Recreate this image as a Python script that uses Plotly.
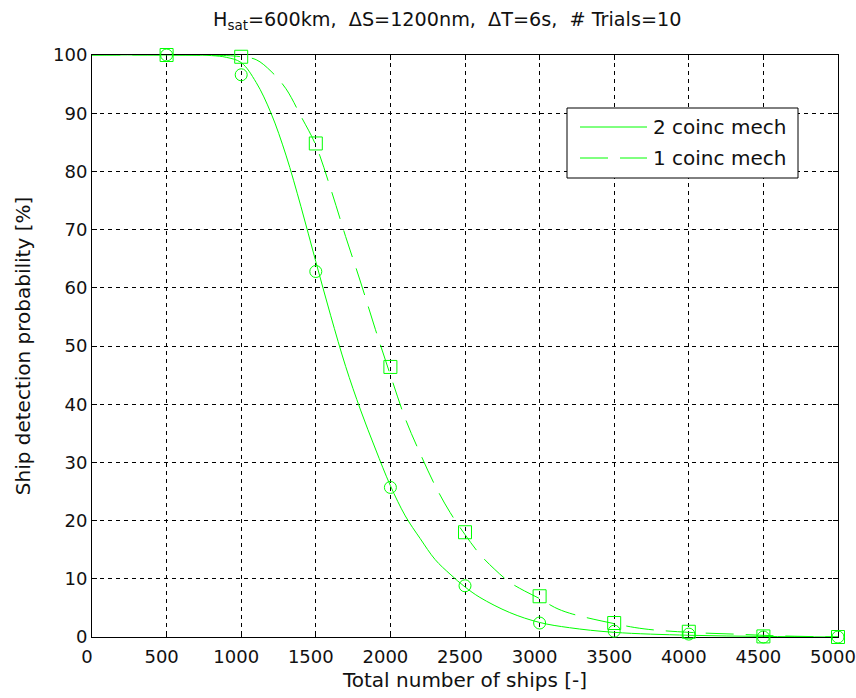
import plotly.graph_objects as go

# Measured data points (markers)
ships = [500, 1000, 1500, 2000, 2500, 3000, 3500, 4000, 4500, 5000]
p_2coinc = [100, 96.6, 62.8, 25.7, 8.8, 2.4, 1.0, 0.5, 0.0, 0.0]
p_1coinc = [100, 99.7, 84.8, 46.4, 18.0, 7.0, 2.4, 0.9, 0.1, 0.0]

# Fitted curves
fit2_x = [0, 500, 800, 900, 1000, 1100, 1200, 1300, 1400, 1500, 1600, 1700, 1800,
          1900, 2000, 2100, 2200, 2300, 2400, 2500, 2600, 2800, 3000, 3200, 3500,
          4000, 4500, 5000]
fit2_y = [100, 100, 99.9, 99.6, 98.7, 95.3, 90.0, 82.8, 74.0, 64.5, 55.2, 46.5, 39.0,
          32.3, 26.0, 20.8, 16.9, 13.3, 10.8, 8.6, 6.8, 4.2, 2.5, 1.6, 0.8,
          0.3, 0.1, 0.0]
fit1_x = [0, 500, 900, 1000, 1100, 1200, 1300, 1400, 1500, 1600, 1700, 1800, 1900,
          2000, 2100, 2200, 2300, 2400, 2500, 2600, 2700, 2800, 2900, 3000, 3100,
          3200, 3500, 3700, 4000, 4300, 4600, 5000]
fit1_y = [100, 100, 99.9, 99.7, 99.2, 97.2, 94.2, 89.5, 84.5, 77.0, 68.8, 61.0, 52.8,
          45.0, 37.5, 31.5, 26.0, 21.4, 17.6, 14.2, 11.6, 9.4, 7.9, 6.6, 5.1,
          4.1, 2.3, 1.4, 0.8, 0.5, 0.2, 0.0]

x_ticks = [0, 500, 1000, 1500, 2000, 2500, 3000, 3500, 4000, 4500, 5000]
y_ticks = [0, 10, 20, 30, 40, 50, 60, 70, 80, 90, 100]
series_names = ["2 coinc mech", "1 coinc mech"]

GREEN = "#00ff00"
TXT = "#111111"
FONT = "DejaVu Sans, Verdana, sans-serif"
FS_TICK = 18
FS = 20
DASH = "28px,12px"

fig = go.Figure()
fig.add_trace(go.Scatter(x=fit2_x, y=fit2_y, mode="lines", line_shape="spline",
                         line=dict(color=GREEN, width=1), name=series_names[0],
                         showlegend=False))
fig.add_trace(go.Scatter(x=fit1_x, y=fit1_y, mode="lines", line_shape="spline",
                         line=dict(color=GREEN, width=1, dash=DASH),
                         name=series_names[1], showlegend=False))
fig.add_trace(go.Scatter(x=ships, y=p_2coinc, mode="markers", showlegend=False,
                         cliponaxis=False,
                         marker=dict(symbol="circle-open", size=12, color=GREEN,
                                     line=dict(width=1, color=GREEN))))
fig.add_trace(go.Scatter(x=ships, y=p_1coinc, mode="markers", showlegend=False,
                         cliponaxis=False,
                         marker=dict(symbol="square-open", size=13, color=GREEN,
                                     line=dict(width=1, color=GREEN))))

axis_common = dict(showline=True, linecolor="black", linewidth=1, mirror="ticks",
                   ticks="inside", ticklen=5, tickcolor="black",
                   showgrid=True, gridcolor="black", gridwidth=1, griddash="4px,4px",
                   zeroline=False, layer="below traces", automargin=False,
                   ticklabeloverflow="allow",
                   tickfont=dict(family=FONT, size=FS_TICK, color=TXT))

fig.update_xaxes(range=[0, 5000], tickvals=x_ticks, ticktext=[str(v) for v in x_ticks],
                 ticklabelshift=-5, ticklabelstandoff=3,
                 title=dict(text="Total number of ships [-]",
                            font=dict(family=FONT, size=FS, color=TXT), standoff=7),
                 **axis_common)
fig.update_yaxes(range=[0, 100], tickvals=y_ticks, ticktext=[str(v) for v in y_ticks],
                 title=dict(text="Ship detection probability [%]",
                            font=dict(family=FONT, size=FS, color=TXT), standoff=17),
                 **axis_common)

# Legend box (MATLAB style), in paper coordinates
def px_x(p):
    return (p - 92) / 746.0

def px_y(p):
    return (637 - p) / 582.0

shapes = [
    dict(type="rect", xref="paper", yref="paper", x0=px_x(567), x1=px_x(798),
         y0=px_y(178), y1=px_y(108), line=dict(color="black", width=1),
         fillcolor="white", layer="above"),
    dict(type="line", xref="paper", yref="paper", x0=px_x(580), x1=px_x(647),
         y0=px_y(127), y1=px_y(127), line=dict(color=GREEN, width=1), layer="above"),
    dict(type="line", xref="paper", yref="paper", x0=px_x(580), x1=px_x(647),
         y0=px_y(158), y1=px_y(158), line=dict(color=GREEN, width=1, dash=DASH),
         layer="above"),
]
annotations = [
    dict(text=series_names[0], xref="paper", yref="paper", x=px_x(651), y=px_y(127),
         xanchor="left", yanchor="middle", showarrow=False,
         font=dict(family=FONT, size=FS, color=TXT)),
    dict(text=series_names[1], xref="paper", yref="paper", x=px_x(651), y=px_y(158),
         xanchor="left", yanchor="middle", showarrow=False,
         font=dict(family=FONT, size=FS, color=TXT)),
]

fig.update_layout(
    width=856, height=698,
    margin=dict(l=92, r=18, t=55, b=61, autoexpand=False),
    paper_bgcolor="white", plot_bgcolor="white",
    title=dict(text="H<sub>sat</sub>=600km,  ΔS=1200nm,  ΔT=6s,  # Trials=10",
               x=px_x(213), xref="paper", xanchor="left", y=0.972, yanchor="middle",
               font=dict(family=FONT, size=19.2, color=TXT)),
    shapes=shapes,
    annotations=annotations,
    showlegend=False,
)

fig.write_html("out.html")
